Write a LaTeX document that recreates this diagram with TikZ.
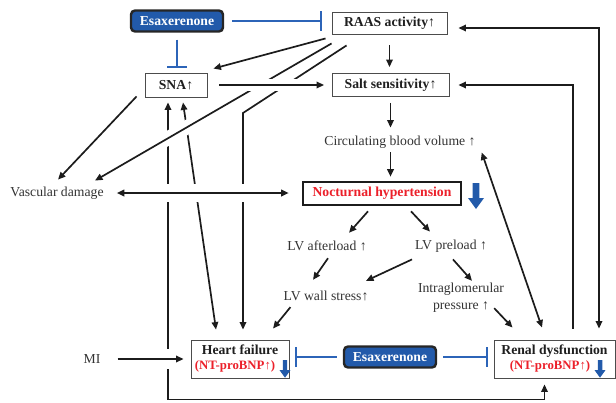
\documentclass[tikz,border=0pt]{standalone}
\usepackage{fontspec}
\setmainfont{Liberation Serif}
\usetikzlibrary{arrows.meta}
\definecolor{esablue}{RGB}{34,90,170}
\definecolor{inhblue}{RGB}{44,100,184}
\definecolor{hred}{RGB}{236,32,42}
\definecolor{ink}{RGB}{28,28,28}
\newcommand{\figsize}{\fontsize{13.7}{16.5}\selectfont}
\newcommand{\bnp}{{\fontsize{12.8}{15}\selectfont\color{hred}(NT-proBNP↑)}}
\tikzset{
  box/.style={draw=black!70,line width=0.9pt,fill=white,inner sep=0pt,font=\figsize\bfseries,text=black!88},
  esabox/.style={draw=black!85,line width=2.4pt,rounded corners=4pt,fill=esablue,text=white,
    font=\figsize\bfseries,minimum width=92pt,minimum height=21pt,inner sep=0pt},
  lbl/.style={text=black!80,inner sep=2pt},
  link/.style={draw=ink,line width=1.7pt,-{Triangle[length=7.5pt,width=6.5pt]}},
  twoway/.style={link,{Triangle[length=7.5pt,width=6.5pt]}-{Triangle[length=7.5pt,width=6.5pt]}},
  inhib/.style={draw=inhblue,line width=2pt,-{Bar[width=20pt]}},
  halo/.style={preaction={draw=white,line width=#1,-}},
  bluedown/.pic={\fill[esablue] (-3.3,0) -- (3.3,0) -- (3.3,15) -- (8,15) -- (0,26) -- (-8,15) -- (-3.3,15) -- cycle;}
}

\begin{document}
\begin{tikzpicture}[x=1pt,y=-1pt,font=\figsize]
  \useasboundingbox (0,0) rectangle (616,402);
  % boxes
  \node[esabox] (esatop) at (177,21) {Esaxerenone};
  \node[box,minimum width=115pt,minimum height=22pt] (raas) at (389.5,23) {RAAS activity↑};
  \node[box,minimum width=62pt,minimum height=24pt] (sna) at (176,85) {SNA↑};
  \node[box,minimum width=117pt,minimum height=23pt] (salt) at (390.5,85) {Salt sensitivity↑};
  \node[box,draw=ink,line width=2.6pt,minimum width=158pt,minimum height=23pt,text=hred] (noct) at (382,193.5) {Nocturnal hypertension};
  \node[box,align=center,minimum width=98pt,minimum height=38pt] (hf) at (240,359)
    {Heart failure\\[-1.5pt]\bnp\hspace*{10pt}};
  \node[esabox] (esabot) at (390,357) {Esaxerenone};
  \node[box,align=center,minimum width=121pt,minimum height=38pt] (renal) at (554.5,359)
    {Renal dysfunction\\[-1.5pt]\bnp\hspace*{9pt}};
  % plain labels
  \node[lbl] (circ) at (400,142) {Circulating blood volume ↑};
  \node[lbl] (vasc) at (57,193) {Vascular damage};
  \node[lbl] (lvaft) at (327,246) {LV afterload ↑};
  \node[lbl] (lvpre) at (451,246) {LV preload ↑};
  \node[lbl] (lvwall) at (326,296) {LV wall stress↑};
  \node[lbl,align=center] (intra) at (461,297.5) {Intraglomerular\\pressure ↑};
  \node[lbl] (mi) at (92,359) {MI};
  % blue down arrows
  \pic at (476,183) {bluedown};
  \pic[scale=0.68] at (285,360) {bluedown};
  \pic[scale=0.68] at (600,360) {bluedown};
  \coordinate (bot) at (400,399.5);
  \coordinate (hfbend) at (243,113);
  % long links first (they get gaps)
  \draw[twoway] ([shift={(-8,5)}]sna.south) |- (bot) -| ([shift={(-10,6)}]renal.south);
  \draw[twoway] ([shift={(7,5)}]sna.south) -- ([shift={(-24,-10)}]hf.north);
  \draw[link] ([shift={(15,11)}]raas.south west) -- (hfbend) -- ([shift={(3,-10)}]hf.north);
  \draw[link,halo=14pt] ([shift={(0,9)}]raas.south west) -- ([shift={(38,-4)}]vasc.north);
  \draw[link] ([shift={(-6,4)}]raas.south west) -- ([shift={(6,-4)}]sna.north east);
  \draw[link,halo=12pt,shorten <=12pt,shorten >=7.5pt] (sna.east) -- (sna.east -| salt.west);
  \draw[twoway,halo=18pt,shorten <=11pt,shorten >=13pt] (vasc.east) -- (vasc.east -| noct.west);
  \draw[link,halo=20pt,shorten <=15pt,shorten >=7pt] (mi.east) -- (mi.east -| hf.west);
  \draw[link] ([shift={(-8,-1)}]sna.south west) -- ([shift={(1,-5)}]vasc.north);
  % right side loops
  \draw[twoway] ([shift={(11,5)}]raas.east) -| ([shift={(44.5,-11)}]renal.north);
  \draw[link] ([shift={(18.5,-11)}]renal.north) |- ([shift={(9,0)}]salt.east);
  \draw[twoway] ([shift={(4,2)}]circ.south east) -- ([shift={(-12.5,-12)}]renal.north);
  % central chain
  \draw[link,shorten <=11pt,shorten >=6pt] (raas.south) -- (raas.south |- salt.north);
  \draw[link,shorten <=6pt,shorten >=6pt] (salt.south) -- (salt.south |- circ.north);
  \draw[link,shorten <=2pt,shorten >=4pt] (salt.south |- circ.south) -- (salt.south |- noct.north);
  \draw[link] ([shift={(-14,5)}]noct.south) -- ([shift={(22,-6)}]lvaft.north);
  \draw[link] ([shift={(29,5)}]noct.south) -- ([shift={(-21,-6)}]lvpre.north);
  \draw[link] ([shift={(1,5)}]lvaft.south) -- ([shift={(-13,-9)}]lvwall.north);
  \draw[link] ([shift={(-39,5)}]lvpre.south) -- ([shift={(40,-8)}]lvwall.north);
  \draw[link] ([shift={(2,5)}]lvpre.south) -- ([shift={(11,0)}]intra.north);
  \draw[link] ([shift={(-12,-6)}]intra.south east) -- ([shift={(19,-12)}]renal.north west);
  \draw[link] ([shift={(9,4)}]lvwall.south west) -- ([shift={(33,-11)}]hf.north);
  % esaxerenone blocks
  \draw[inhib,shorten <=8pt,shorten >=10pt] (esatop.east) -- (esatop.east -| raas.west);
  \draw[inhib,shorten <=7pt,shorten >=5pt] (esatop.south) -- (esatop.south |- sna.north);
  \draw[inhib,shorten <=6pt,shorten >=6pt] (esabot.west) -- (esabot.west -| hf.east);
  \draw[inhib,shorten <=6pt,shorten >=6pt] (esabot.east) -- (esabot.east -| renal.west);
\end{tikzpicture}
\end{document}
